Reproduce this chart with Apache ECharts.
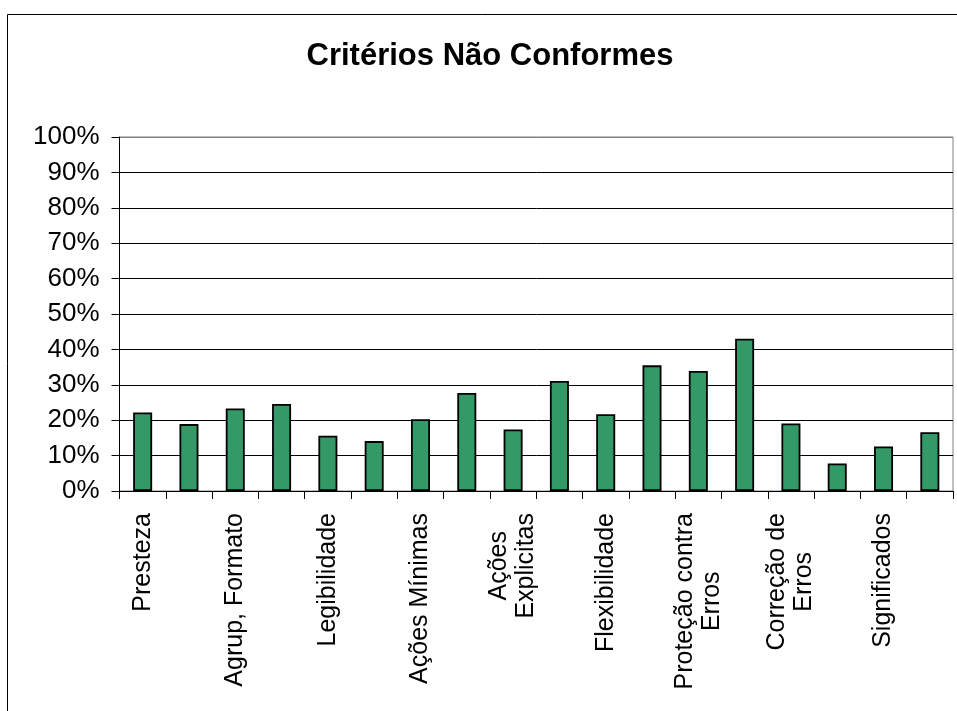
<!DOCTYPE html>
<html>
<head>
<meta charset="utf-8">
<script src="https://cdn.jsdelivr.net/npm/echarts@6/dist/echarts.min.js"></script>
<style>
  html, body { margin: 0; padding: 0; background: #fff; }
  #chart { width: 957px; height: 711px; }
</style>
</head>
<body>
<div id="chart"></div>
<script>
// Ergonomic criteria (ErgoList); only every other name is printed on the axis
const criteria = [
  'Presteza', 'Agrup, Local', 'Agrup, Formato', 'Feedback',
  'Legibilidade', 'Concisão', 'Ações Mínimas', 'Densidade Informacional',
  'Ações\nExplicitas', 'Controle do Usuário', 'Flexibilidade', 'Experiência do Usuário',
  'Proteção contra\nErros', 'Mensagens de Erro', 'Correção de\nErros', 'Consistência',
  'Significados', 'Compatibilidade'
];
// Share of non-conforming items per criterion (%)
const naoConformes = [
  22.2, 18.9, 23.3, 24.6, 15.6, 14.1, 20.3, 27.7, 17.4,
  31.1, 21.7, 35.5, 33.9, 43.0, 19.1, 7.8, 12.6, 16.6
];
const yTicks = [0, 10, 20, 30, 40, 50, 60, 70, 80, 90, 100];

const FONT = '"Liberation Sans", Arial, sans-serif';
const chart = echarts.init(document.getElementById('chart'), null, { renderer: 'canvas' });

// Grid lines are black, the top edge of the plot area is grey
const splitColors = yTicks.map((t, i) => (i === yTicks.length - 1 ? '#808080' : '#000000'));

chart.setOption({
  backgroundColor: '#ffffff',
  animation: false,
  title: {
    text: 'Critérios Não Conformes',
    left: 485,
    top: 36,
    textAlign: 'center',
    textStyle: { fontFamily: FONT, fontSize: 31, fontWeight: 'bold', color: '#000' }
  },
  graphic: [{
    type: 'rect',
    shape: { x: 7.5, y: 14.5, width: 1000, height: 800 },
    style: { fill: 'none', stroke: '#000', lineWidth: 1 },
    silent: true,
    z: -10
  }],
  grid: {
    left: 119.5, right: 4, top: 137, bottom: 220,
    show: true, borderColor: '#808080', borderWidth: 1, backgroundColor: 'transparent'
  },
  xAxis: {
    type: 'category',
    data: criteria,
    boundaryGap: true,
    axisLine: { lineStyle: { color: '#000', width: 1 } },
    axisTick: { show: true, interval: 0, length: 8, lineStyle: { color: '#000' } },
    axisLabel: {
      interval: 1,
      rotate: 90,
      margin: 22,
      color: '#000',
      fontFamily: FONT,
      fontSize: 25,
      lineHeight: 27,
      formatter: v => v.split('\n').map(l => '{c|' + l + '}').join('\n'),
      rich: {
        c: { align: 'center', fontFamily: FONT, fontSize: 25, lineHeight: 27, color: '#000' }
      }
    }
  },
  yAxis: {
    type: 'value',
    min: 0, max: 100, interval: 10,
    axisLine: { show: true, lineStyle: { color: '#000', width: 1 } },
    axisTick: { show: true, length: 8, lineStyle: { color: '#000' } },
    axisLabel: {
      margin: 20,
      color: '#000',
      fontFamily: FONT,
      fontSize: 26,
      formatter: v => v + '%'
    },
    splitLine: { show: true, lineStyle: { color: splitColors, width: 1 } }
  },
  series: [{
    type: 'bar',
    data: naoConformes,
    barWidth: 19,
    itemStyle: { color: '#339966', borderColor: '#000', borderWidth: 1.8 }
  }]
});
</script>
</body>
</html>
